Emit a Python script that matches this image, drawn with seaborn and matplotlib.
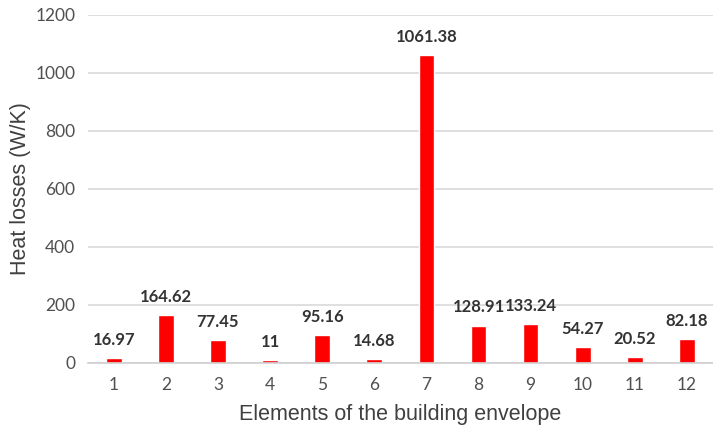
import matplotlib
matplotlib.use("Agg")
import matplotlib.pyplot as plt
import seaborn as sns
import pandas as pd

categories = ["1", "2", "3", "4", "5", "6", "7", "8", "9", "10", "11", "12"]
values = [16.97, 164.62, 77.45, 11, 95.16, 14.68, 1061.38, 128.91, 133.24, 54.27, 20.52, 82.18]
labels = ["16.97", "164.62", "77.45", "11", "95.16", "14.68", "1061.38", "128.91", "133.24", "54.27", "20.52", "82.18"]

sns.set_theme(style="white")
df = pd.DataFrame({"element": categories, "loss": values})

fig = plt.figure(figsize=(7.13, 4.3), dpi=100)
ax = fig.add_axes([0.123, 0.156, 0.877, 0.81])
sns.barplot(data=df, x="element", y="loss", color="#ff0000", saturation=1, width=0.3, ax=ax)

for i, (v, t) in enumerate(zip(values, labels)):
    ax.text(i, v + 35, t, ha="center", va="bottom", fontsize=12, fontweight="bold",
            color="#333333", family="Lato")

ax.set_ylim(0, 1200)
ax.set_yticks(range(0, 1201, 200))
ax.set_xlim(-0.5, 11.5)
ax.yaxis.grid(True, color="#d9d9d9", linewidth=1.2)
ax.set_axisbelow(True)
for s in ["top", "right", "left"]:
    ax.spines[s].set_visible(False)
ax.spines["bottom"].set_color("#d0d0d0")
ax.spines["bottom"].set_linewidth(1.2)

ax.tick_params(axis="y", length=0, labelsize=12.5, colors="#505050", pad=9)
ax.tick_params(axis="x", length=0, labelsize=12.5, colors="#505050", pad=10)
for lab in ax.get_xticklabels() + ax.get_yticklabels():
    lab.set_family("Lato")

# minor ticks at category boundaries
ax.set_xticks([i - 0.5 for i in range(13)], minor=True)
ax.tick_params(axis="x", which="minor", length=5, color="#d0d0d0", width=1.2, direction="out")

ax.set_xlabel("Elements of the building envelope", fontsize=15.5, color="#404040",
              family="Liberation Sans", labelpad=8)
ax.set_ylabel("Heat losses (W/K)", fontsize=15.5, color="#404040",
              family="Liberation Sans", labelpad=3)

fig.savefig("out.png", dpi=100)
